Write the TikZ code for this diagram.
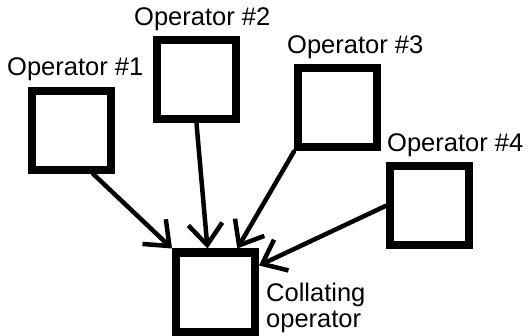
\documentclass[tikz,border=0pt]{standalone}
\usepackage{fontspec}
\setmainfont{Liberation Sans}
\usetikzlibrary{arrows.meta,calc}

\begin{document}
\begin{tikzpicture}[x=1pt,y=-1pt,
  opbox/.style={draw=black, line width=8pt, fill=white, inner sep=0pt,
                minimum width=79pt, minimum height=79pt},
  oplabel/.style={anchor=base west, inner sep=0pt, font=\fontsize{25.5}{26}\selectfont},
  feed/.style={line width=4.5pt, line cap=round,
               -{Straight Barb[length=21pt, width=34pt, line width=4.5pt]}}]
  \useasboundingbox (0,0) rectangle (529,336);

  % operator boxes
  \node[opbox] (b1) at (71.5,130.5) {};
  \node[opbox] (b2) at (196.5,80) {};
  \node[opbox] (b3) at (337.5,108) {};
  \node[opbox] (b4) at (429,206) {};
  \node[opbox] (c)  at (215.5,292) {};

  % labels (the two-line label sits on the baseline of its last line)
  \node[oplabel] (l1) at (7,76)   {Operator \#1};
  \node[oplabel] (l2) at (134,26) {Operator \#2};
  \node[oplabel] (l3) at (287,54) {Operator \#3};
  \node[oplabel] (l4) at (387,152) {Operator \#4};
  \node[oplabel, align=left] (lc) at (266,327)
    {Collating\\[0pt]operator};

  % feeds into the collating operator
  \draw[feed] ($(b1.south)!0.5!(b1.south east)$) -- (c.north west);
  \draw[feed] (b2.south) -- ($(c.north)+(-8,0)$);
  \draw[feed] (b3.south west) -- ($(c.north)!0.5!(c.north east)$);
  \draw[feed] (b4.west) -- ($(c.north east)+(0,17)$);
\end{tikzpicture}
\end{document}
